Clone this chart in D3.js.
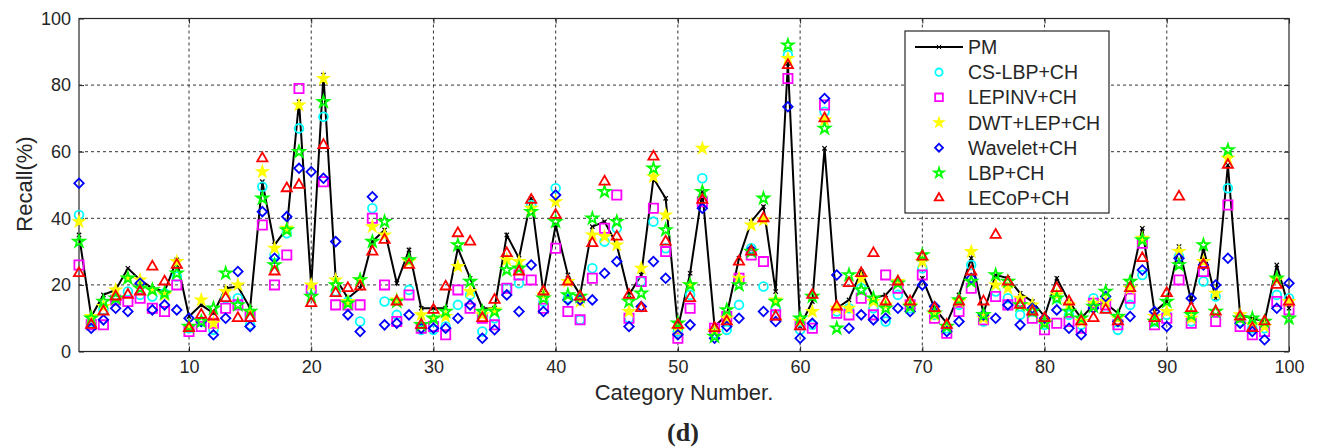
<!DOCTYPE html>
<html lang="en">
<head>
  <meta charset="UTF-8">
  <title>Recall per category</title>
  <script src="https://d3js.org/d3.v7.min.js"></script>
  <style>
    body { margin: 0; background: #fff; }
    text { font-family: "Liberation Sans", Arial, sans-serif; fill: #262626; }
    .grid line { stroke: #333; stroke-dasharray: 3,3; stroke-width: 1; }
  </style>
</head>
<body>
<svg width="1318" height="448"></svg>
<script>
  // category numbers 1..100
  const categories = d3.range(1, 101);

  const pm = [35,10.5,17,18.5,25,21.5,19,18,27.5,10.5, 14,11.5,19,19.5,13,51,32,37,75,19.5,
    83,22,16,19,33,36.5,20.5,30.5,13,13, 13,31,22,13,13,35,28,46,17.5,38,
    23,17,37.5,39,32,17,23,52,46,7, 23.5,48,7.5,11,28,39,43.5,18,86.5,7.5,
    15,61,13,15.5,24,16,17,21,15,22, 13,8.5,17,28,11.5,23,22,17.5,15,10.5,
    22,15,10,14,14.5,11.5,20,37,12,15, 31.5,15,31,16,56,11,10,9,26,13];
  const csLbp = [41,9,12.5,16,18,17,16.5,17.5,22.5,7, 9,6.5,16,16,8,49.5,29,35.5,67,18.5,
    70.5,18,15,9,43,15,11,18.5,6.5,6.5, 7.5,14,17,6,10,19,20.5,44,15,49,
    16,9.5,25,33,37,10,21,39,31,6, 17,52,5.5,6.5,14,31,19.5,13,89,6.5,
    8,72,12,13,19,13,9,17,13,25, 11,7,14,26,9,18,16,11,12,8,
    16,11,8,16,13,6.5,14,23,9,11, 28.5,9,21,16.5,49,9,7,7,17,16];
  const lepinv = [26,8,8,15.5,15,16,13,12,20,6, 7.5,8.5,13,14,10.5,38,20,29,79,18.5,
    51,14,14,14,40,20,9,17,7,7.5, 5,18.5,13,10,8,19,23,21.5,13,31,
    12,9.5,22,37,47,10,21,43,30,4, 13,45,7,10.5,22,29,27,11,82,8,
    7,74,11.5,11,16,11,23,19,14,23, 10,5.5,12,19,9.5,16.5,14,15,10,6.5,
    8.5,9,7,14.5,14,8,16,32.5,8,10, 21.5,8.5,24,9,44,7.5,5,6,15,12.5];
  const dwtLep = [39,10.5,13.5,18.5,22,21.5,18.5,17,27,7.5, 15.5,8.5,18,20,12,54,31,37,74,20,
    82,21.5,15,21.5,37.5,35,15.5,27,11,10, 10.5,25.5,18,11,12.5,27.5,27,43,17,45,
    21,15,35,34.5,32,12,25,52.5,41,6.5, 20,61,6,10,22,38,39.5,15.5,88,9,
    12,69.5,13,13,22,15,14,21,14,27, 11,7.5,15,30,10,20,19,16,14,9,
    17,14,9,14.5,15,10,19,34,10.5,12, 30,10,27,17.5,58,11,8,7.5,21.5,15];
  const wavelet = [50.5,7,9.5,13,12,20.5,12.5,14,12.5,10, 9,5,10,24,7.5,42,28,40.5,55,54,
    52,33,11,6,46.5,8,8.5,11,7,7, 7,10,14,4,6.5,17,12,26,12,47,
    15.5,15.5,15.5,23.5,27,7.5,13.5,27,22,5, 8,43,4,7.5,10,30.5,12,9,73.5,4,
    8.5,76,23,7,11,9.5,10,13,12,20, 13.5,6,9,22,11,10,14,8,13,10,
    12.5,7,5,13,16.5,9,10.5,24.5,12,7.5, 28,16,26,20,28,8.5,6,3.5,13,20.5];
  const lbp = [33,10,15,16,22,19,18.5,17.5,23.5,7.5, 9,13,23.5,14,12,46,26,36.5,60,16.5,
    75,20,14.5,21.5,33,39,15,27.5,8,10, 12,32,21,12,12,24.5,25,42,16,39,
    17,16.5,40,48,39,15,17.5,55,36.5,8.5, 20,48,4.5,12.5,20,30,46,15,92,10,
    16.5,67,7,23,18.5,16,13,20.5,13.5,29, 11.5,7.5,15.5,21,11,23,21,14,12,8.5,
    16,12,10,13.5,18,10.5,21,33.5,9,15, 26,11,32,12,60.5,10,10,9,22,10];
  const lecop = [23.5,8,12,16.5,17,18,25.5,21,26,7, 11,10.5,16,10,10,58,24,49,50,14.5,
    62,17.5,19,19.5,30,33.5,15,26,8,12.5, 19.5,35.5,33,10,15.5,29.5,24,45.5,18,41,
    21,16.5,32.5,51,34.5,17,13,58.5,33,8, 16,45.5,7,9,27,30,40,10.5,86,7.5,
    17,70,13.5,20.5,23.5,29.5,15,21,15,28.5, 13,8,15,24,15,35,21,14,12,10,
    19,15,9,10,12.5,9,19,28,10,17.5, 46.5,13,26,12,56,10.5,7,9,20,15];

  const seriesNames = ["PM", "CS-LBP+CH", "LEPINV+CH", "DWT+LEP+CH", "Wavelet+CH", "LBP+CH", "LECoP+CH"];
  const xTicks = [10, 20, 30, 40, 50, 60, 70, 80, 90, 100];
  const yTicks = [0, 20, 40, 60, 80, 100];

  const svg = d3.select("svg");
  const mLeft = 79, mRight = 1289, mTop = 18.5, mBottom = 351.5;

  const x = d3.scaleLinear().domain([1, 100]).range([mLeft, mRight]);
  const y = d3.scaleLinear().domain([0, 100]).range([mBottom, mTop]);

  // grid
  const grid = svg.append("g").attr("class", "grid");
  grid.selectAll(".gx").data(xTicks.filter(d => d < 100)).enter().append("line")
    .attr("x1", d => x(d)).attr("x2", d => x(d)).attr("y1", mTop).attr("y2", mBottom);
  grid.selectAll(".gy").data(yTicks.filter(d => d > 0 && d < 100)).enter().append("line")
    .attr("x1", mLeft).attr("x2", mRight).attr("y1", d => y(d)).attr("y2", d => y(d));

  // axes (MATLAB style, ticks inside, on all four sides)
  const fmt = d3.format("d");
  svg.append("g").attr("transform", `translate(0,${mBottom})`)
    .call(d3.axisBottom(x).tickValues(xTicks).tickSize(-5).tickPadding(9).tickFormat(fmt))
    .call(g => g.select(".domain").remove());
  svg.append("g").attr("transform", `translate(0,${mTop})`)
    .call(d3.axisTop(x).tickValues(xTicks).tickSize(-5).tickFormat(""))
    .call(g => g.select(".domain").remove());
  svg.append("g").attr("transform", `translate(${mLeft},0)`)
    .call(d3.axisLeft(y).tickValues(yTicks).tickSize(-5).tickPadding(8).tickFormat(fmt))
    .call(g => g.select(".domain").remove());
  svg.append("g").attr("transform", `translate(${mRight},0)`)
    .call(d3.axisRight(y).tickValues(yTicks).tickSize(-5).tickFormat(""))
    .call(g => g.select(".domain").remove());
  svg.selectAll(".tick line").attr("stroke", "#262626");
  svg.selectAll(".tick text").style("font-size", "18px").attr("fill", "#262626");

  svg.append("rect").attr("x", mLeft).attr("y", mTop)
    .attr("width", mRight - mLeft).attr("height", mBottom - mTop)
    .attr("fill", "none").attr("stroke", "#262626").attr("stroke-width", 1.2);

  // PM line
  const line = d3.line().x((d, i) => x(categories[i])).y(d => y(d));
  svg.append("path").datum(pm).attr("d", line)
    .attr("fill", "none").attr("stroke", "#000").attr("stroke-width", 2);
  svg.selectAll(".pmx").data(pm).enter().append("path")
    .attr("transform", (d, i) => `translate(${x(categories[i])},${y(d)})`)
    .attr("d", d3.symbol(d3.symbolTimes, 14)()).attr("stroke", "#000").attr("stroke-width", 1.2);

  // marker styles
  const styles = [
    { data: csLbp, type: d3.symbolCircle, size: 60, stroke: "#00ffff", fill: "none" },
    { data: lepinv, type: d3.symbolSquare, size: 85, stroke: "#ff00ff", fill: "none" },
    { data: dwtLep, type: d3.symbolStar, size: 30, stroke: "#ffff00", fill: "#ffff00" },
    { data: wavelet, type: d3.symbolSquare, size: 45, stroke: "#0000ff", fill: "none", rot: 45 },
    { data: lbp, type: d3.symbolStar, size: 40, stroke: "#00ff00", fill: "none" },
    { data: lecop, type: d3.symbolTriangle, size: 45, stroke: "#ff0000", fill: "none" }
  ];

  styles.forEach(s => {
    svg.append("g").selectAll("path").data(s.data).enter().append("path")
      .attr("transform", (d, i) => `translate(${x(categories[i])},${y(d)})` + (s.rot ? ` rotate(${s.rot})` : ""))
      .attr("d", d3.symbol(s.type, s.size)())
      .attr("fill", s.fill).attr("stroke", s.stroke).attr("stroke-width", 1.8);
  });

  // legend
  const lg = svg.append("g");
  lg.append("rect").attr("x", 905).attr("y", 31).attr("width", 204).attr("height", 182)
    .attr("fill", "#fff").attr("stroke", "#262626").attr("stroke-width", 1.2);
  const rowY = d3.scaleLinear().domain([0, 6]).range([47, 198]);
  seriesNames.forEach((name, i) => {
    const yy = rowY(i);
    if (i === 0) {
      lg.append("line").attr("x1", 915).attr("x2", 963).attr("y1", yy).attr("y2", yy)
        .attr("stroke", "#000").attr("stroke-width", 2);
      lg.append("path").attr("transform", `translate(939,${yy})`)
        .attr("d", d3.symbol(d3.symbolTimes, 14)()).attr("stroke", "#000");
    } else {
      const s = styles[i - 1];
      lg.append("path")
        .attr("transform", `translate(939,${yy})` + (s.rot ? ` rotate(${s.rot})` : ""))
        .attr("d", d3.symbol(s.type, s.size * 0.7)())
        .attr("fill", s.fill).attr("stroke", s.stroke).attr("stroke-width", 1.8);
    }
    lg.append("text").attr("x", 968).attr("y", yy).attr("dy", "0.36em")
      .style("font-size", "19.5px").text(name);
  });

  // labels
  svg.append("text").attr("x", (mLeft + mRight) / 2).attr("y", 400)
    .attr("text-anchor", "middle").style("font-size", "22px").text("Category Number.");
  svg.append("text").attr("transform", "translate(32,184) rotate(-90)")
    .attr("text-anchor", "middle").style("font-size", "22px").text("Recall(%)");
  svg.append("text").attr("x", 683).attr("y", 441).attr("text-anchor", "middle")
    .style("font-family", "'Liberation Serif', 'Times New Roman', serif")
    .style("font-weight", "bold").style("font-size", "26px").attr("fill", "#000").text("(d)");
</script>
</body>
</html>
